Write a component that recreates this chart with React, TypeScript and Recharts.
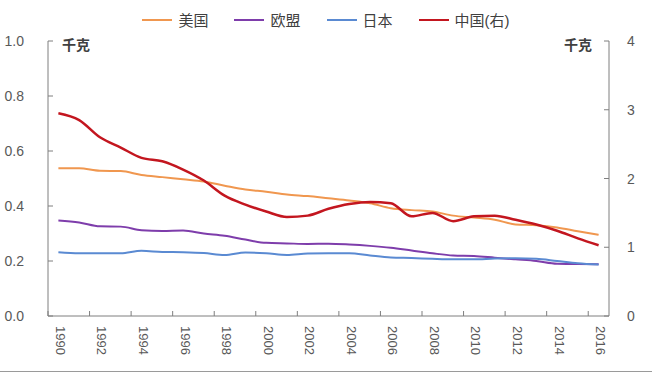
import React from 'react';
import { LineChart, Line, XAxis, YAxis, Legend } from 'recharts';

const years = [
  '1990', '1991', '1992', '1993', '1994', '1995', '1996', '1997', '1998', '1999',
  '2000', '2001', '2002', '2003', '2004', '2005', '2006', '2007', '2008', '2009',
  '2010', '2011', '2012', '2013', '2014', '2015', '2016',
];

// 千克 per unit, left axis
const usa = [
  0.537, 0.537, 0.528, 0.527, 0.513, 0.505, 0.497, 0.489, 0.474, 0.46,
  0.452, 0.442, 0.436, 0.428, 0.42, 0.41, 0.392, 0.385, 0.38, 0.365,
  0.358, 0.35, 0.333, 0.33, 0.322, 0.308, 0.295,
];
const eu = [
  0.347, 0.34, 0.326, 0.325, 0.312, 0.309, 0.311, 0.3, 0.292, 0.278,
  0.266, 0.264, 0.262, 0.263, 0.26, 0.255, 0.248, 0.238, 0.228, 0.22,
  0.218, 0.212, 0.206, 0.2, 0.19, 0.189, 0.188,
];
const japan = [
  0.232, 0.228, 0.228, 0.228, 0.237, 0.233, 0.232, 0.229, 0.222, 0.231,
  0.228, 0.222, 0.227, 0.228, 0.228, 0.22, 0.213, 0.211, 0.208, 0.206,
  0.206, 0.209, 0.21, 0.208, 0.2, 0.192, 0.187,
];
// right axis
const china = [
  2.95, 2.85, 2.6, 2.45, 2.3, 2.25, 2.13, 1.97, 1.75, 1.62,
  1.52, 1.44, 1.46, 1.56, 1.63, 1.66, 1.64, 1.45, 1.5, 1.38,
  1.45, 1.46, 1.4, 1.33, 1.24, 1.13, 1.03,
];

const leftTicks = [0, 0.2, 0.4, 0.6, 0.8, 1.0];
const rightTicks = [0, 1, 2, 3, 4];

const series = [
  { key: 'usa', name: '美国', color: '#F0974F', axis: 'left', width: 2 },
  { key: 'eu', name: '欧盟', color: '#7E3DAB', axis: 'left', width: 2 },
  { key: 'japan', name: '日本', color: '#5A8AD2', axis: 'left', width: 2 },
  { key: 'china', name: '中国(右)', color: '#C3161F', axis: 'right', width: 2.5 },
];

const data = years.map((year, i) => ({
  year,
  usa: usa[i],
  eu: eu[i],
  japan: japan[i],
  china: china[i],
}));

const FONT = '"Liberation Sans", Arial, "Noto Sans CJK SC", sans-serif';
const AXIS = '#7f7f7f';
const TEXT = '#595959';
const BAND = 561 / 27;

const XTick = (props: any) => {
  const { x, y, payload } = props;
  return (
    <g>
      <line x1={x - BAND / 2} x2={x - BAND / 2} y1={y} y2={y - 5} stroke={AXIS} />
      <text
        transform={`translate(${x + 2},${y + 10}) rotate(90)`}
        textAnchor="start"
        dominantBaseline="central"
        fontSize={13}
        fontFamily={FONT}
        fill={TEXT}
      >
        {payload.value}
      </text>
    </g>
  );
};

const LeftTick = (props: any) => {
  const { x, y, payload } = props;
  return (
    <g>
      <line x1={x} x2={x + 5} y1={y} y2={y} stroke={AXIS} />
      <text x={x - 24} y={y} textAnchor="end" dominantBaseline="central" fontSize={14} fontFamily={FONT} fill={TEXT}>
        {payload.value.toFixed(1)}
      </text>
    </g>
  );
};

const RightTick = (props: any) => {
  const { x, y, payload } = props;
  return (
    <g>
      <line x1={x} x2={x - 5} y1={y} y2={y} stroke={AXIS} />
      <text x={x + 18} y={y} textAnchor="start" dominantBaseline="central" fontSize={14} fontFamily={FONT} fill={TEXT}>
        {payload.value}
      </text>
    </g>
  );
};

const unitLabel = (side: 'left' | 'right') => (props: any) => {
  const { viewBox } = props;
  const x = side === 'left' ? viewBox.x + viewBox.width + 14 : viewBox.x - 17;
  return (
    <text
      x={x}
      y={viewBox.y + 4}
      textAnchor={side === 'left' ? 'start' : 'end'}
      dominantBaseline="central"
      fontSize={14}
      fontWeight="bold"
      fontFamily={FONT}
      fill="#404040"
    >
      千克
    </text>
  );
};

const renderLegend = () => (
  <div
    style={{
      display: 'flex',
      justifyContent: 'center',
      alignItems: 'center',
      gap: 26,
      fontSize: 15,
      color: '#404040',
      fontFamily: FONT,
    }}
  >
    {series.map(s => (
      <div key={s.key} style={{ display: 'flex', alignItems: 'center' }}>
        <span
          style={{
            display: 'inline-block',
            width: 30,
            borderTop: `2.5px solid ${s.color}`,
            marginRight: 6,
          }}
        />
        <span>{s.name}</span>
      </div>
    ))}
  </div>
);

const App: React.FC = () => {
  return (
    <div style={{ position: 'absolute', left: 0, top: 0, width: 652, height: 377, background: '#fff' }}>
      <LineChart width={652} height={377} data={data} margin={{ top: 41, right: 0, left: 0, bottom: 0 }}>
        <XAxis
          dataKey="year"
          height={61}
          interval={1}
          padding={{ left: BAND / 2, right: BAND / 2 }}
          tickLine={false}
          tickSize={0}
          tickMargin={0}
          stroke={AXIS}
          tick={<XTick />}
        />
        <YAxis
          yAxisId="left"
          orientation="left"
          width={48}
          domain={[0, 1]}
          ticks={leftTicks}
          tickLine={false}
          tickSize={0}
          tickMargin={0}
          stroke={AXIS}
          tick={<LeftTick />}
          label={{ content: unitLabel('left') }}
        />
        <YAxis
          yAxisId="right"
          orientation="right"
          width={43}
          domain={[0, 4]}
          ticks={rightTicks}
          tickLine={false}
          tickSize={0}
          tickMargin={0}
          stroke={AXIS}
          tick={<RightTick />}
          label={{ content: unitLabel('right') }}
        />
        <Legend
          verticalAlign="middle"
          align="center"
          content={renderLegend}
          wrapperStyle={{ top: 9, left: 0, width: 652 }}
        />
        {series.map(s => (
          <Line
            key={s.key}
            yAxisId={s.axis}
            dataKey={s.key}
            name={s.name}
            type="monotone"
            stroke={s.color}
            strokeWidth={s.width}
            dot={false}
            activeDot={false}
            isAnimationActive={false}
          />
        ))}
      </LineChart>
      <div style={{ position: 'absolute', left: 0, top: 371, width: 652, borderTop: '1.5px solid #9a9a9a' }} />
    </div>
  );
};

export default App;
